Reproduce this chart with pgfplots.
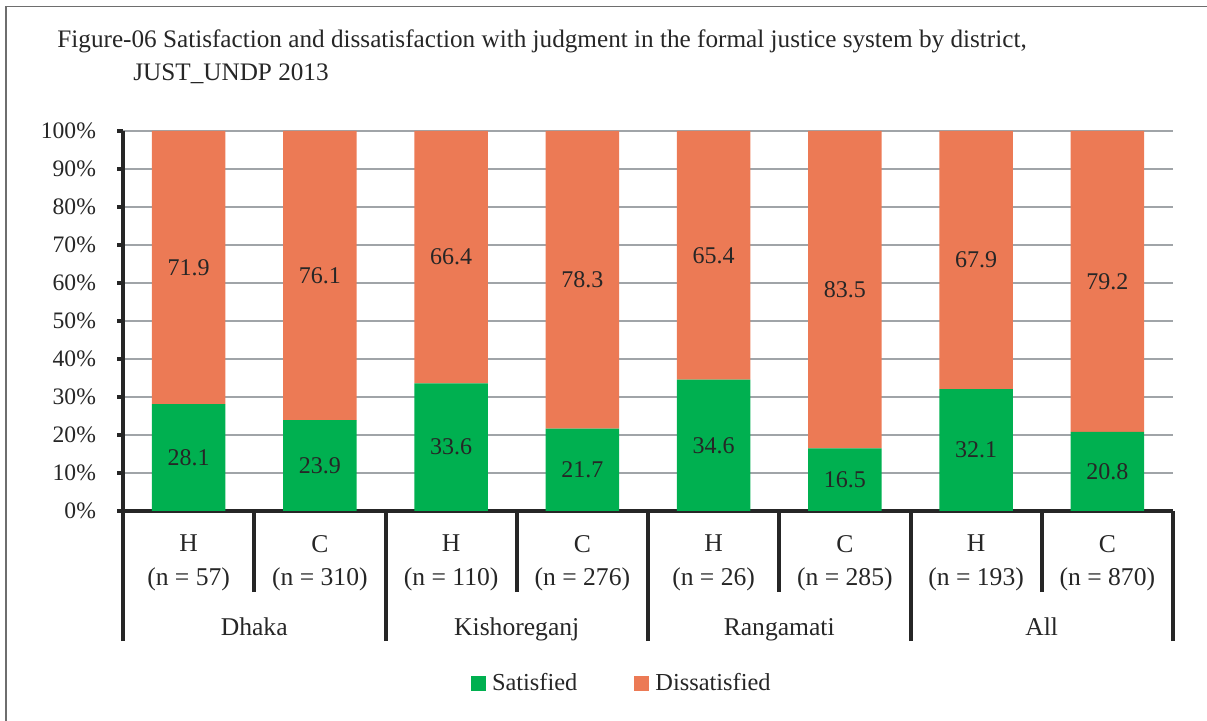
\documentclass[border=0pt]{standalone}
\usepackage{fontspec}
\setmainfont{Liberation Serif}
\usepackage{pgfplots}
\usepackage{pgfplotstable}
\pgfplotsset{compat=1.18}

\definecolor{satgreen}{HTML}{00B050}
\definecolor{disorange}{HTML}{EC7A55}
\definecolor{inkdark}{HTML}{262626}
\definecolor{gridgray}{HTML}{A0A4A8}
\definecolor{framegray}{HTML}{6E6E6E}

% share (%) of respondents satisfied / dissatisfied with the judgment
\pgfplotstableread{
x sat  dis
0 28.1 71.9
1 23.9 76.1
2 33.6 66.4
3 21.7 78.3
4 34.6 65.4
5 16.5 83.5
6 32.1 67.9
7 20.8 79.2
}\judgment

\newcommand{\ytickfont}{\fontsize{11.8pt}{14pt}\selectfont}
\newcommand{\catfont}{\fontsize{12.8pt}{16.75pt}\selectfont}
\newcommand{\valfont}{\fontsize{12pt}{14pt}\selectfont}
\newcommand{\legfont}{\fontsize{12.2pt}{14pt}\selectfont}

\begin{document}
\begin{tikzpicture}
\useasboundingbox (0,0) rectangle (603.5pt,-360.5pt);
\draw[framegray, line width=0.75pt] (3pt,-370pt) -- (3pt,-3.25pt) -- (612pt,-3.25pt);

\node[anchor=base west, inner sep=0pt, text=inkdark, font=\fontsize{12.6pt}{15pt}\selectfont]
  at (28.5pt,-23.75pt) {Figure-06 Satisfaction and dissatisfaction with judgment in the formal justice system by district,};
\node[anchor=base west, inner sep=0pt, text=inkdark, font=\fontsize{12.6pt}{15pt}\selectfont]
  at (66.5pt,-40.5pt) {JUST\_UNDP 2013};

\begin{axis}[
  at={(61.5pt,-255.5pt)}, anchor=south west,
  scale only axis, width=525pt, height=190pt,
  ybar stacked, bar width=0.56,
  xmin=-0.5, xmax=7.5, ymin=0, ymax=100,
  axis lines*=left,
  axis line style={inkdark, line width=2pt},
  tick align=outside,
  major tick length=3pt,
  ytick={0,10,...,100},
  yticklabel={\pgfmathprintnumber{\tick}\%},
  /pgf/number format/assume math mode=true,
  major y tick style={inkdark, line width=2pt},
  ymajorgrids,
  major grid style={gridgray, line width=1pt},
  xtick={0,...,7},
  xticklabels={{H\\(n = 57)},{C\\(n = 310)},{H\\(n = 110)},{C\\(n = 276)},
               {H\\(n = 26)},{C\\(n = 285)},{H\\(n = 193)},{C\\(n = 870)}},
  major x tick style={draw=none},
  xticklabel style={align=center, text=inkdark, font=\catfont, yshift=-5.5pt},
  yticklabel style={text=inkdark, font=\ytickfont, xshift=-7pt},
  minor xtick={-0.5,1.5,3.5,5.5,7.5},
  minor tick length=65pt,
  minor x tick style={draw=inkdark, line width=2pt},
  extra x ticks={0.5,2.5,4.5,6.5},
  extra x tick labels={Dhaka,Kishoreganj,Rangamati,All},
  extra x tick style={
    grid=none,
    major tick length=40.5pt,
    major x tick style={draw=inkdark, line width=2pt},
    xticklabel style={yshift=-4pt},
  },
  legend style={at={(0.476,-0.455)}, anchor=center, draw=none, fill=none,
    legend columns=2, font=\legfont, text=inkdark,
    /tikz/every even column/.append style={column sep=26.5pt}},
  legend image code/.code={\path[#1, draw=none] (0pt,-3.75pt) rectangle (7.5pt,3.75pt);
                           \path (8.5pt,0pt);},
]
\addplot[fill=satgreen, draw=none] table[x=x, y=sat]{\judgment};
\addlegendentry{Satisfied}
\addplot[fill=disorange, draw=none] table[x=x, y=dis]{\judgment};
\addlegendentry{Dissatisfied}
\end{axis}

% value labels, centred in each segment
\begin{axis}[
  at={(61.5pt,-255.5pt)}, anchor=south west,
  scale only axis, width=525pt, height=190pt,
  xmin=-0.5, xmax=7.5, ymin=0, ymax=100,
  hide axis, clip=false,
  /pgf/number format/assume math mode=true,
  nodes near coords={\pgfmathprintnumber[fixed, precision=1, fixed zerofill]{\pgfplotspointmeta}},
  nodes near coords align=center,
  every node near coord/.append style={anchor=center, text=inkdark, font=\valfont},
]
\addplot[draw=none, mark=none, point meta=explicit]
  table[x=x, y expr=\thisrow{sat}/2, meta=sat]{\judgment};
\addplot[draw=none, mark=none, point meta=explicit]
  table[x=x, y expr=\thisrow{sat}+\thisrow{dis}/2, meta=dis]{\judgment};
\end{axis}
\end{tikzpicture}
\end{document}
